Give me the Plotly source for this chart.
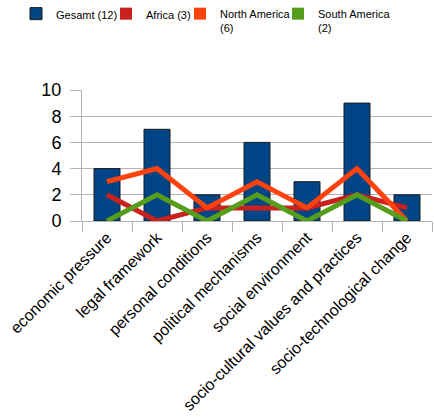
import plotly.graph_objects as go

categories = ["economic pressure", "legal framework", "personal conditions",
              "political mechanisms", "social environment",
              "socio-cultural values and practices", "socio-technological change"]
gesamt = [4, 7, 2, 6, 3, 9, 2]
africa = [2, 0, 1, 1, 1, 2, 1]
north_america = [3, 4, 1, 3, 1, 4, 0]
south_america = [0, 2, 0, 2, 0, 2, 0]

names = ["Gesamt (12)", "Africa (3)", "North America<br>(6)", "South America<br>(2)"]
colors = ["#004586", "#c9211e", "#ff420e", "#579d1c"]

W, H = 434, 420
legend_ids = ["legend", "legend2", "legend3", "legend4"]
legend_x = [16, 106, 180, 278]   # left edge of each legend box, px

fig = go.Figure()
fig.add_trace(go.Bar(x=categories, y=gesamt, name=names[0], legend=legend_ids[0],
                     marker=dict(color=colors[0], line=dict(color="#1a1a1a", width=1)),
                     showlegend=True))
for nm, col, lg in zip(names[1:], colors[1:], legend_ids[1:]):
    fig.add_trace(go.Bar(x=[categories[0]], y=[None], name=nm, legend=lg,
                         marker=dict(color=col, line=dict(width=0)),
                         showlegend=True))
for vals, nm, col in zip([africa, north_america, south_america], names[1:], colors[1:]):
    fig.add_trace(go.Scatter(x=categories, y=vals, mode="lines", name=nm,
                             line=dict(color=col, width=5), showlegend=False))

legend_common = dict(yref="container", y=1 + 10 / H, yanchor="top", xref="container",
                     xanchor="left", font=dict(size=11), itemclick=False, valign="top",
                     itemdoubleclick=False, bgcolor="rgba(0,0,0,0)", borderwidth=0)
layout_legends = {}
for lid, lx in zip(legend_ids, legend_x):
    layout_legends[lid] = dict(x=lx / W, **legend_common)

fig.update_layout(
    width=W, height=H,
    margin=dict(l=82, r=2, t=90, b=199, autoexpand=False),
    paper_bgcolor="white", plot_bgcolor="white",
    barmode="overlay", bargap=0.48,
    font=dict(family="Liberation Sans, Arial, sans-serif", color="#000"),
    showlegend=True,
    **layout_legends,
)
fig.update_xaxes(type="category", tickangle=-45, tickfont=dict(size=16), automargin=False,
                 showgrid=False, tickson="boundaries", ticks="outside", ticklen=10,
                 tickcolor="#b3b3b3", showline=True, linecolor="#b3b3b3")
fig.update_yaxes(range=[0, 10], dtick=2, tickfont=dict(size=18), showgrid=True, automargin=False,
                 gridcolor="#b3b3b3", ticks="outside", ticklen=11, tickcolor="#b3b3b3",
                 ticklabelstandoff=5,
                 showline=True, linecolor="#b3b3b3", zeroline=False)

fig.write_html("out.html", config={"displayModeBar": False},
               post_script="document.body.style.margin='0';")
